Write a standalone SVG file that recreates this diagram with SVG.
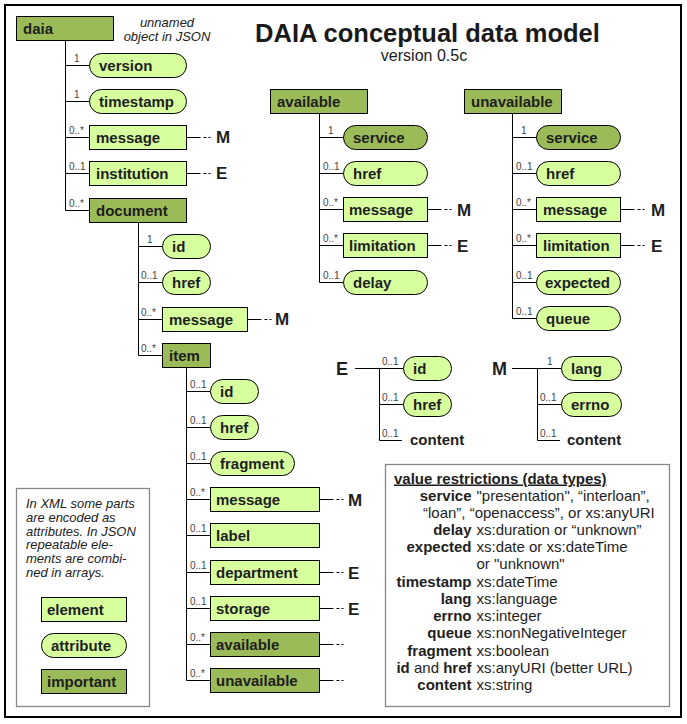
<svg xmlns="http://www.w3.org/2000/svg" width="687" height="724" viewBox="0 0 687 724">
<style>
.el{fill:#d7ff9e;stroke:#000;stroke-width:1}
.im{fill:#9bbb59;stroke:#000;stroke-width:1}
.lb{font-family:"Liberation Sans",Arial,sans-serif;font-weight:bold;font-size:15px;fill:#1e1e1e}
.cd{font-family:"Liberation Sans",Arial,sans-serif;font-size:10px;fill:#444}
.cn{stroke:#000;stroke-width:1;fill:none}
.tr{stroke:#000;stroke-width:1;fill:none;stroke-dasharray:14 3 3 2 2}
.big{font-family:"Liberation Sans",Arial,sans-serif;font-weight:bold;font-size:17px;fill:#1e1e1e}
.it{font-family:"Liberation Sans",Arial,sans-serif;font-style:italic;font-size:13px;fill:#222}
.vr{font-family:"Liberation Sans",Arial,sans-serif;font-size:15px;fill:#1e1e1e}
.vb{font-weight:bold}
.box{fill:#fff;stroke:#888;stroke-width:1.3}
</style>
<rect x="0" y="0" width="687" height="724" fill="#fff"/>
<rect x="5" y="5" width="676" height="712" fill="none" stroke="#000" stroke-width="2"/>
<text x="427.5" y="42" text-anchor="middle" style="font-family:'Liberation Sans',Arial,sans-serif;font-weight:bold;font-size:25.5px;fill:#1a1a1a">DAIA conceptual data model</text>
<text x="424" y="61" text-anchor="middle" style="font-family:'Liberation Sans',Arial,sans-serif;font-size:16px;fill:#1a1a1a">version 0.5c</text>
<text class="it" x="167" y="27" text-anchor="middle">unnamed</text>
<text class="it" x="167" y="41" text-anchor="middle">object in JSON</text>

<g id="connectors">
<path class="cn" d="M65.5 40.5V210.5M65.5 65.5H89.5M65.5 101.5H89.5M65.5 137.5H89.5M65.5 173.5H89.5M65.5 210.5H89.5"/>
<path class="tr" d="M186.5 137.5H210.5M186.5 173.5H210.5"/>
<path class="cn" d="M138.5 222.5V355.5M138.5 246.5H162.5M138.5 282.5H162.5M138.5 319.5H162.5M138.5 355.5H162.5"/>
<path class="tr" d="M247.5 319.5H271.5"/>
<path class="cn" d="M186.5 367.5V680.5M186.5 391.5H210.5M186.5 427.5H210.5M186.5 463.5H210.5M186.5 499.5H210.5M186.5 535.5H210.5M186.5 572.5H210.5M186.5 608.5H210.5M186.5 644.5H210.5M186.5 680.5H210.5"/>
<path class="tr" d="M319.5 499.5H343.5M319.5 572.5H343.5M319.5 608.5H343.5M319.5 644.5H343.5M319.5 680.5H343.5"/>
<path class="cn" d="M319.5 113.5V282.5M319.5 137.5H343.5M319.5 173.5H343.5M319.5 209.5H343.5M319.5 245.5H343.5M319.5 282.5H343.5"/>
<path class="tr" d="M427.5 209.5H451.5M427.5 245.5H451.5"/>
<path class="cn" d="M512.5 113.5V318.5M512.5 137.5H536.5M512.5 173.5H536.5M512.5 209.5H536.5M512.5 245.5H536.5M512.5 282.5H536.5M512.5 318.5H536.5"/>
<path class="tr" d="M620.5 209.5H644.5M620.5 245.5H644.5"/>
<path class="cn" d="M355 368.5H403.5M379.5 368.5V440.5M379.5 404.5H403.5M379.5 440.5H402"/>
<path class="cn" d="M512 368.5H561.5M537.5 368.5V440.5M537.5 404.5H561.5M537.5 440.5H560"/>
</g>

<g id="cardinalities" class="cd">
<text x="74" y="62">1</text>
<text x="74" y="98">1</text>
<text x="69" y="134">0..*</text>
<text x="69" y="170">0..1</text>
<text x="69" y="207">0..*</text>
<text x="147" y="243">1</text>
<text x="141" y="279">0..1</text>
<text x="141" y="316">0..*</text>
<text x="141" y="352">0..*</text>
<text x="190" y="388">0..1</text>
<text x="190" y="424">0..1</text>
<text x="190" y="460">0..1</text>
<text x="190" y="496">0..*</text>
<text x="190" y="532">0..1</text>
<text x="190" y="569">0..1</text>
<text x="190" y="605">0..1</text>
<text x="190" y="641">0..*</text>
<text x="190" y="677">0..*</text>
<text x="328" y="134">1</text>
<text x="323" y="170">0..1</text>
<text x="323" y="206">0..*</text>
<text x="323" y="242">0..*</text>
<text x="323" y="279">0..1</text>
<text x="521" y="134">1</text>
<text x="516" y="170">0..1</text>
<text x="516" y="206">0..*</text>
<text x="516" y="242">0..*</text>
<text x="516" y="279">0..1</text>
<text x="516" y="315">0..1</text>
<text x="382" y="365">0..1</text>
<text x="382" y="401">0..1</text>
<text x="382" y="437">0..1</text>
<text x="547" y="365">1</text>
<text x="540" y="401">0..1</text>
<text x="540" y="437">0..1</text>
</g>

<g id="refs" class="big">
<text x="216" y="143">M</text>
<text x="216" y="179">E</text>
<text x="275" y="325">M</text>
<text x="348" y="506">M</text>
<text x="348" y="579">E</text>
<text x="348" y="615">E</text>
<text x="457" y="216">M</text>
<text x="457" y="252">E</text>
<text x="651" y="216">M</text>
<text x="651" y="252">E</text>
</g>

<g id="daia"><rect class="im" x="16.5" y="16.5" width="97" height="24"/><text class="lb" x="23" y="34">daia</text></g>
<g id="daia-version"><rect class="el" x="89.5" y="53.5" width="97" height="24" rx="12"/><text class="lb" x="99" y="70.5">version</text></g>
<g id="daia-timestamp"><rect class="el" x="89.5" y="89.5" width="97" height="24" rx="12"/><text class="lb" x="99" y="106.5">timestamp</text></g>
<g id="daia-message"><rect class="el" x="89.5" y="125.5" width="97" height="24"/><text class="lb" x="96" y="142.5">message</text></g>
<g id="daia-institution"><rect class="el" x="89.5" y="161.5" width="97" height="24"/><text class="lb" x="96" y="178.5">institution</text></g>
<g id="document"><rect class="im" x="89.5" y="198.5" width="97" height="24"/><text class="lb" x="96" y="215.5">document</text></g>

<g id="document-id"><rect class="el" x="162.5" y="234.5" width="48" height="24" rx="12"/><text class="lb" x="172" y="251.5">id</text></g>
<g id="document-href"><rect class="el" x="162.5" y="270.5" width="48" height="24" rx="12"/><text class="lb" x="172" y="287.5">href</text></g>
<g id="document-message"><rect class="el" x="162.5" y="307.5" width="85" height="24"/><text class="lb" x="169" y="324.5">message</text></g>
<g id="item"><rect class="im" x="162.5" y="343.5" width="48" height="24"/><text class="lb" x="169" y="360.5">item</text></g>

<g id="item-id"><rect class="el" x="210.5" y="379.5" width="48" height="24" rx="12"/><text class="lb" x="220" y="396.5">id</text></g>
<g id="item-href"><rect class="el" x="210.5" y="415.5" width="48" height="24" rx="12"/><text class="lb" x="220" y="432.5">href</text></g>
<g id="item-fragment"><rect class="el" x="210.5" y="451.5" width="84" height="24" rx="12"/><text class="lb" x="220" y="468.5">fragment</text></g>
<g id="item-message"><rect class="el" x="210.5" y="487.5" width="109" height="24"/><text class="lb" x="216" y="504.5">message</text></g>
<g id="item-label"><rect class="el" x="210.5" y="523.5" width="109" height="24"/><text class="lb" x="216" y="540.5">label</text></g>
<g id="item-department"><rect class="el" x="210.5" y="560.5" width="109" height="24"/><text class="lb" x="216" y="577.5">department</text></g>
<g id="item-storage"><rect class="el" x="210.5" y="596.5" width="109" height="24"/><text class="lb" x="216" y="613.5">storage</text></g>
<g id="item-available"><rect class="im" x="210.5" y="632.5" width="109" height="24"/><text class="lb" x="216" y="649.5">available</text></g>
<g id="item-unavailable"><rect class="im" x="210.5" y="668.5" width="109" height="24"/><text class="lb" x="216" y="685.5">unavailable</text></g>

<g id="available"><rect class="im" x="270.5" y="89.5" width="97" height="24"/><text class="lb" x="277" y="106.5">available</text></g>
<g id="available-service"><rect class="im" x="343.5" y="125.5" width="84" height="24" rx="12"/><text class="lb" x="353" y="142.5">service</text></g>
<g id="available-href"><rect class="el" x="343.5" y="161.5" width="84" height="24" rx="12"/><text class="lb" x="353" y="178.5">href</text></g>
<g id="available-message"><rect class="el" x="343.5" y="197.5" width="84" height="24"/><text class="lb" x="349" y="214.5">message</text></g>
<g id="available-limitation"><rect class="el" x="343.5" y="233.5" width="84" height="24"/><text class="lb" x="349" y="250.5">limitation</text></g>
<g id="available-delay"><rect class="el" x="343.5" y="270.5" width="84" height="24" rx="12"/><text class="lb" x="353" y="287.5">delay</text></g>

<g id="unavailable"><rect class="im" x="464.5" y="89.5" width="97" height="24"/><text class="lb" x="471" y="106.5">unavailable</text></g>
<g id="unavailable-service"><rect class="im" x="536.5" y="125.5" width="84" height="24" rx="12"/><text class="lb" x="546" y="142.5">service</text></g>
<g id="unavailable-href"><rect class="el" x="536.5" y="161.5" width="84" height="24" rx="12"/><text class="lb" x="546" y="178.5">href</text></g>
<g id="unavailable-message"><rect class="el" x="536.5" y="197.5" width="84" height="24"/><text class="lb" x="543" y="214.5">message</text></g>
<g id="unavailable-limitation"><rect class="el" x="536.5" y="233.5" width="84" height="24"/><text class="lb" x="543" y="250.5">limitation</text></g>
<g id="unavailable-expected"><rect class="el" x="536.5" y="270.5" width="84" height="24" rx="12"/><text class="lb" x="545" y="287.5">expected</text></g>
<g id="unavailable-queue"><rect class="el" x="536.5" y="306.5" width="84" height="24" rx="12"/><text class="lb" x="546" y="323.5">queue</text></g>

<g id="E"><text x="336" y="375" style="font-family:'Liberation Sans',Arial,sans-serif;font-weight:bold;font-size:18px;fill:#1e1e1e">E</text></g>
<g id="E-id"><rect class="el" x="403.5" y="356.5" width="48" height="24" rx="12"/><text class="lb" x="413" y="373.5">id</text></g>
<g id="E-href"><rect class="el" x="403.5" y="392.5" width="48" height="24" rx="12"/><text class="lb" x="413" y="409.5">href</text></g>
<g id="E-content"><text class="lb" x="410" y="445">content</text></g>

<g id="M"><text x="492" y="375" style="font-family:'Liberation Sans',Arial,sans-serif;font-weight:bold;font-size:18px;fill:#1e1e1e">M</text></g>
<g id="M-lang"><rect class="el" x="561.5" y="356.5" width="60" height="24" rx="12"/><text class="lb" x="571" y="373.5">lang</text></g>
<g id="M-errno"><rect class="el" x="561.5" y="392.5" width="60" height="24" rx="12"/><text class="lb" x="571" y="409.5">errno</text></g>
<g id="M-content"><text class="lb" x="567" y="445">content</text></g>

<g id="legend">
<rect class="box" x="16.5" y="488.5" width="133" height="218"/>
<text class="it" x="26"><tspan x="26" y="508">In XML some parts</tspan><tspan x="26" y="521.8">are encoded as</tspan><tspan x="26" y="535.6">attributes. In JSON</tspan><tspan x="26" y="549.4">repeatable ele-</tspan><tspan x="26" y="563.2">ments are combi-</tspan><tspan x="26" y="577">ned in arrays.</tspan></text>
<g id="legend-element"><rect class="el" x="41.5" y="597.5" width="85" height="24"/><text class="lb" x="47" y="614.5">element</text></g>
<g id="legend-attribute"><rect class="el" x="41.5" y="633.5" width="85" height="24" rx="12"/><text class="lb" x="51" y="650.5">attribute</text></g>
<g id="legend-important"><rect class="im" x="41.5" y="669.5" width="85" height="24"/><text class="lb" x="47" y="686.5">important</text></g>
</g>

<g id="value-restrictions">
<rect class="box" x="385.5" y="464.5" width="284" height="242"/>
<text class="vr vb" x="394" y="483.5" text-decoration="underline">value restrictions (data types)</text>
<g class="vr">
<text x="471.5" y="501" text-anchor="end" class="vb">service</text><text x="476.5" y="501">"presentation", “interloan”,</text>
<text x="423" y="518">“loan”, “openaccess”, or xs:anyURI</text>
<text x="471.5" y="535" text-anchor="end" class="vb">delay</text><text x="476.5" y="535">xs:duration or “unknown”</text>
<text x="471.5" y="552" text-anchor="end" class="vb">expected</text><text x="476.5" y="552">xs:date or xs:dateTime</text>
<text x="476.5" y="569">or "unknown"</text>
<text x="471.5" y="586.5" text-anchor="end" class="vb">timestamp</text><text x="476.5" y="586.5">xs:dateTime</text>
<text x="471.5" y="603.5" text-anchor="end" class="vb">lang</text><text x="476.5" y="603.5">xs:language</text>
<text x="471.5" y="621" text-anchor="end" class="vb">errno</text><text x="476.5" y="621">xs:integer</text>
<text x="471.5" y="638" text-anchor="end" class="vb">queue</text><text x="476.5" y="638">xs:nonNegativeInteger</text>
<text x="471.5" y="655.5" text-anchor="end" class="vb">fragment</text><text x="476.5" y="655.5">xs:boolean</text>
<text x="471.5" y="672.5" text-anchor="end"><tspan class="vb">id</tspan> and <tspan class="vb">href</tspan></text><text x="476.5" y="672.5">xs:anyURI (better URL)</text>
<text x="471.5" y="689.5" text-anchor="end" class="vb">content</text><text x="476.5" y="689.5">xs:string</text>
</g>
</g>
</svg>
